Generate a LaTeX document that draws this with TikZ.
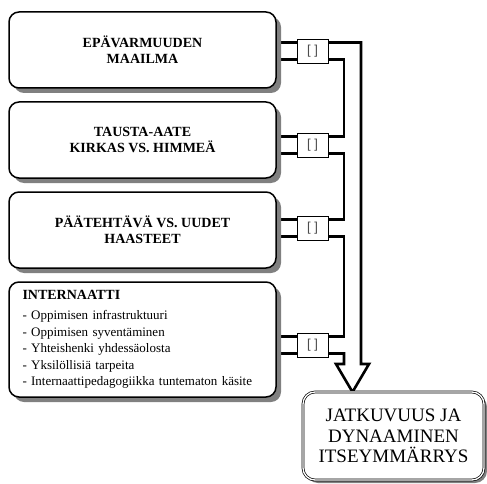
\documentclass[tikz,border=0pt]{standalone}
\usepackage{fontspec}
\setmainfont{Liberation Serif}[BoldFont={Liberation Serif Bold}]
\newfontfamily\bracketfont{Liberation Sans}
\usetikzlibrary{shadows,backgrounds}

\begin{document}
\begin{tikzpicture}[x=1pt,y=-1pt,
  topic/.style={draw, line width=1.5pt, rounded corners=10pt, fill=white,
    drop shadow={shadow xshift=5pt, shadow yshift=-5pt, fill=black!50, opacity=1},
    minimum width=267pt, inner sep=0pt, align=center,
    font=\rmfamily\bfseries\fontsize{14}{16}\selectfont},
  link/.style={draw, line width=0.8pt, fill=white, minimum width=31pt,
    minimum height=24pt, inner sep=0pt, text=black!70,
    font=\bracketfont\fontsize{13}{14}\selectfont},
  goalbox/.style={draw, double, line width=0.7pt, double distance=1.3pt,
    rounded corners=12pt, fill=white,
    drop shadow={shadow xshift=3pt, shadow yshift=-3pt, fill=black!50, opacity=1},
    minimum width=181pt, minimum height=88pt, inner sep=0pt, align=center,
    font=\rmfamily\fontsize{19}{20.5}\selectfont},
  wire/.style={line width=2.6pt, line join=miter},
]
\useasboundingbox (0,0) rectangle (487,484);

% topic boxes
\node[topic, minimum height=76pt] (b1) at (142.5,50) {EPÄVARMUUDEN\\MAAILMA};
\node[topic, minimum height=76pt] (b2) at (142.5,140) {TAUSTA-AATE\\KIRKAS VS. HIMMEÄ};
\node[topic, minimum height=76pt] (b3) at (142.5,230) {PÄÄTEHTÄVÄ VS. UUDET\\HAASTEET};
\node[topic, minimum height=115pt, align=left, text width=240pt, inner xsep=13.5pt,
  font=\rmfamily\fontsize{13}{16.5}\selectfont] (b4) at (142.5,339.5)
  {{\bfseries\fontsize{14}{16}\selectfont INTERNAATTI}\\[3.5pt]
   - Oppimisen infrastruktuuri\\
   - Oppimisen syventäminen\\
   - Yhteishenki yhdessäolosta\\
   - Yksilöllisiä tarpeita\\
   - Internaattipedagogiikka tuntematon käsite};

% result box
\node[goalbox] (goal) at (393.5,436) {JATKUVUUS JA\\DYNAAMINEN\\ITSEYMMÄRRYS};

% small link boxes
\node[link] (k1) at (312.5,51) {[ ]};
\node[link] (k2) at (312.5,145) {[ ]};
\node[link] (k3) at (312.5,228) {[ ]};
\node[link] (k4) at (312.5,345) {[ ]};

% rails of the arrow shaft and its tip
\coordinate (rail) at (344,0);
\coordinate (outer) at (361,0);
\coordinate (tip) at (352.5,392);

\begin{scope}[on background layer]
  % box to link box, two wires each
  \foreach \b/\k in {b1/k1, b2/k2, b3/k3, b4/k4}{
    \draw[wire] ([yshift=8.5pt]\k.west) -- ([yshift=8.5pt]\k.west -| \b.east);
    \draw[wire] ([yshift=-8.5pt]\k.west) -- ([yshift=-8.5pt]\k.west -| \b.east);
  }
  % chain of link boxes down the inner rail
  \draw[wire] ([yshift=-8.5pt]k1.east) -| ([yshift=8.5pt]k2.east -| rail) -- ([yshift=8.5pt]k2.east);
  \draw[wire] ([yshift=-8.5pt]k2.east) -| ([yshift=8.5pt]k3.east -| rail) -- ([yshift=8.5pt]k3.east);
  \draw[wire] ([yshift=-8.5pt]k3.east) -| ([yshift=8.5pt]k4.east -| rail) -- ([yshift=8.5pt]k4.east);
  % the open arrow into the result box
  \draw[wire] ([yshift=8.5pt]k1.east) -| (outer |- 0,364) -- (369,364) -- (tip)
    -- (336,364) -- (rail |- 0,364) |- ([yshift=-8.5pt]k4.east);
\end{scope}
\end{tikzpicture}
\end{document}
